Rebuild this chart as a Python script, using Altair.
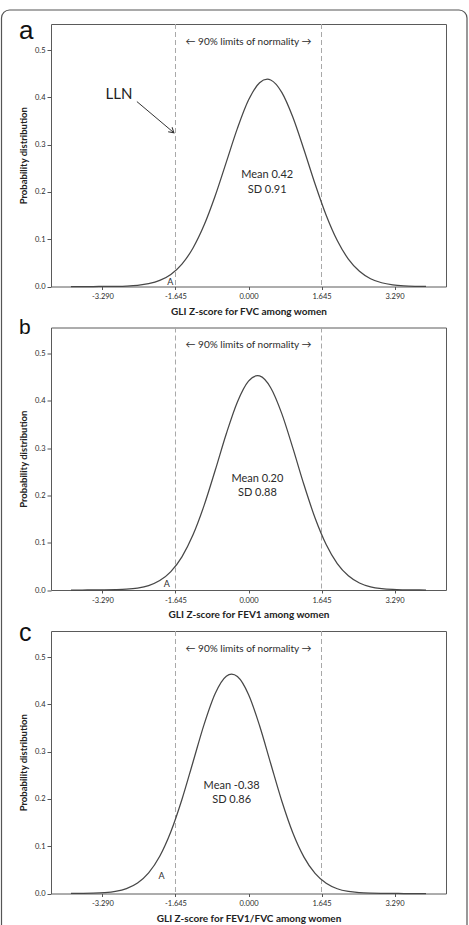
import altair as alt
import pandas as pd

# z positions where each density curve is sampled
z_grid = [-4.0, -3.75, -3.5, -3.25, -3.0, -2.75, -2.5, -2.25, -2.0, -1.75, -1.5,
          -1.25, -1.0, -0.75, -0.5, -0.25, 0.0, 0.25, 0.5, 0.75, 1.0, 1.25, 1.5,
          1.75, 2.0, 2.25, 2.5, 2.75, 3.0, 3.25, 3.5, 3.75, 4.0]

# probability density of the GLI z-scores, one list per lung-function measure
density_fvc = [0.0000, 0.0000, 0.0000, 0.0001, 0.0004, 0.0010, 0.0025, 0.0059, 0.0128,
               0.0255, 0.0473, 0.0814, 0.1298, 0.1918, 0.2630, 0.3343, 0.3941, 0.4308,
               0.4367, 0.4105, 0.3578, 0.2892, 0.2168, 0.1507, 0.0971, 0.0580, 0.0322,
               0.0165, 0.0079, 0.0035, 0.0014, 0.0005, 0.0002]
density_fev1 = [0.0000, 0.0000, 0.0001, 0.0002, 0.0006, 0.0016, 0.0041, 0.0094, 0.0199,
                0.0389, 0.0701, 0.1166, 0.1789, 0.2531, 0.3304, 0.3977, 0.4417, 0.4526,
                0.4277, 0.3729, 0.2999, 0.2224, 0.1522, 0.0961, 0.0559, 0.0301, 0.0149,
                0.0068, 0.0029, 0.0011, 0.0004, 0.0001, 0.0000]
density_ratio = [0.0001, 0.0002, 0.0006, 0.0018, 0.0045, 0.0104, 0.0222, 0.0436, 0.0787,
                 0.1304, 0.1987, 0.2781, 0.3577, 0.4229, 0.4594, 0.4586, 0.4208, 0.3548,
                 0.2749, 0.1957, 0.1280, 0.0770, 0.0425, 0.0216, 0.0101, 0.0043, 0.0017,
                 0.0006, 0.0002, 0.0001, 0.0000, 0.0000, 0.0000]

panel_letters = ["a", "b", "c"]
outcomes = ["FVC", "FEV1", "FEV1/FVC"]
means = [0.42, 0.20, -0.38]
sds = [0.91, 0.88, 0.86]
densities = [density_fvc, density_fev1, density_ratio]

normal_limits = [-1.645, 1.645]
x_ticks = [-3.290, -1.645, 0.000, 1.645, 3.290]
y_ticks = [0.0, 0.1, 0.2, 0.3, 0.4, 0.5]

a_label_x = [-1.76, -1.84, -1.96]
a_label_y = [0.010, 0.013, 0.036]
stat_label_y = [0.235, 0.235, 0.228]

# LLN call-out on the first panel
lln_text = {"z": -2.92, "y": 0.396}
lln_arrow = {"z": -2.515, "y": 0.391, "z2": -1.68, "y2": 0.325}

W, H = 395, 262.5
FONT = "Lato"
INK = "#2b2b2b"

letter_sizes = [26, 21, 25]
letter_baselines = [14.7, 6.0, 9.6]


def panel(i):
    x_enc = alt.X(
        "z:Q",
        scale=alt.Scale(domain=[-4.45, 4.45], nice=False, zero=False),
        axis=alt.Axis(
            values=x_ticks,
            labelExpr="replace(format(datum.value, '.3f'), '\u2212', '-')",
            title=f"GLI Z-score for {outcomes[i]} among women",
            tickSize=3, labelPadding=3, titlePadding=6,
        ),
    )
    y_enc = alt.Y(
        "density:Q",
        scale=alt.Scale(domain=[0, 0.555], nice=False),
        axis=alt.Axis(values=y_ticks, format=".1f", title="Probability distribution",
                      tickSize=4, labelPadding=2, titlePadding=6),
    )

    curve = alt.Chart(pd.DataFrame({"z": z_grid, "density": densities[i]})).mark_line(
        interpolate="cardinal", color="#474747", strokeWidth=1.25
    ).encode(x=x_enc, y=y_enc)

    limits = alt.Chart(pd.DataFrame({"z": normal_limits})).mark_rule(
        strokeDash=[5, 3], color="#a8a8a8", strokeWidth=1
    ).encode(x="z:Q")

    banner = alt.Chart(pd.DataFrame({"z": [0.0], "density": [0.517],
                                     "t": ["\u2190 90% limits of normality \u2192"]})).mark_text(
        font=FONT, fontSize=10, color=INK
    ).encode(x="z:Q", y="density:Q", text="t:N")

    stats = alt.Chart(pd.DataFrame({
        "z": [means[i], means[i]],
        "density": [stat_label_y[i], stat_label_y[i] - 0.03],
        "t": [f"Mean {means[i]:.2f}", f"SD {sds[i]:.2f}"],
    })).mark_text(font=FONT, fontSize=11, color=INK).encode(
        x="z:Q", y="density:Q", text="t:N")

    a_mark = alt.Chart(pd.DataFrame({"z": [a_label_x[i]], "density": [a_label_y[i]],
                                     "t": ["A"]})).mark_text(
        font=FONT, fontSize=9, color=INK
    ).encode(x="z:Q", y="density:Q", text="t:N")

    letter = alt.Chart(pd.DataFrame({"t": [panel_letters[i]]})).mark_text(
        font="Liberation Sans", fontSize=letter_sizes[i], color="#111111",
        align="left", baseline="alphabetic"
    ).encode(x=alt.value(-32), y=alt.value(letter_baselines[i]), text="t:N")

    layers = []
    if i == 0:
        # rounded outline around the whole figure (bottom edge left open)
        w, h, r = 465.5, 915.5, 8
        first = (w - 2 * r) + 3.14159 * r / 2 + (h - r)
        border = alt.Chart(pd.DataFrame({"k": [0]})).mark_rect(
            filled=False, stroke="#555555", strokeWidth=1.2,
            cornerRadiusTopLeft=r, cornerRadiusTopRight=r,
            strokeDash=[first, w],
        ).encode(x=alt.value(-49.5), x2=alt.value(416),
                 y=alt.value(-14), y2=alt.value(901.5))
        layers.append(border)

    layers += [limits, curve, banner, stats, a_mark, letter]

    if i == 0:
        lln = alt.Chart(pd.DataFrame({"z": [lln_text["z"]], "density": [lln_text["y"]],
                                      "t": ["LLN"]})).mark_text(
            font=FONT, fontSize=15, color="#222222", baseline="alphabetic"
        ).encode(x="z:Q", y="density:Q", text="t:N")
        arrow_df = pd.DataFrame([lln_arrow])
        shaft = alt.Chart(arrow_df).mark_rule(color="#333333", strokeWidth=1).encode(
            x="z:Q", y="y:Q", x2="z2:Q", y2="y2:Q")
        head = alt.Chart(arrow_df).mark_point(
            shape="M-1,-0.6L0,0L-1,0.6", filled=False, stroke="#333333",
            strokeWidth=1, size=100, angle=40, opacity=1
        ).encode(x="z2:Q", y="y2:Q")
        layers += [lln, shaft, head]

    return alt.layer(*layers).properties(width=W, height=H)


chart = alt.vconcat(*[panel(i) for i in range(3)], spacing=40.5, bounds="flush").properties(
    padding={"left": 0, "top": 8, "right": 0, "bottom": 0}
).configure_view(
    stroke="#5a5a5a", strokeWidth=1
).configure_axis(
    domain=False, grid=False, ticks=True, tickColor="#555555",
    labelFont=FONT, labelFontSize=7.5, labelColor=INK,
    titleFont=FONT, titleFontSize=9.5, titleFontWeight="bold", titleColor="#222222",
).configure_axisX(titleFontSize=10)

chart.save("out.html", embed_options={"renderer": "svg", "actions": False})
